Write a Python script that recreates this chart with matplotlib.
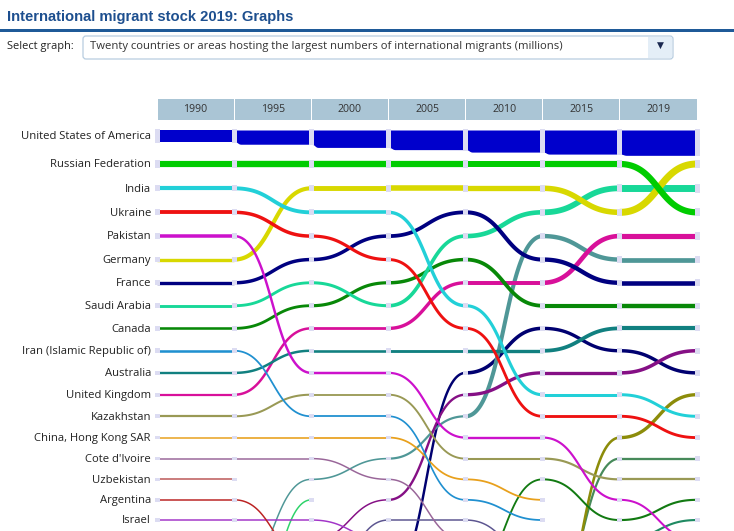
#importing dependencies
import numpy as np
import matplotlib.pyplot as plt
from matplotlib.patches import Rectangle, FancyBboxPatch

#Data : top countries per year, in rank order, with migrant stock (millions)
years = ["1990", "1995", "2000", "2005", "2010", "2015", "2019"]

rank_1990 = ["United States of America", "Russian Federation", "India", "Ukraine", "Pakistan",
             "Germany", "France", "Saudi Arabia", "Canada", "Iran (Islamic Republic of)",
             "Australia", "United Kingdom", "Kazakhstan", "China, Hong Kong SAR", "Cote d'Ivoire",
             "Uzbekistan", "Argentina", "Israel", "Italy", "Poland"]
mig_1990 = [23.25, 11.52, 7.49, 6.89, 6.21, 5.94, 5.90, 4.99, 4.33, 4.29,
            3.96, 3.65, 3.62, 2.22, 1.82, 1.65, 1.65, 1.63, 1.43, 1.13]

rank_1995 = ["United States of America", "Russian Federation", "Germany", "India", "Ukraine",
             "France", "Saudi Arabia", "Canada", "United Kingdom", "Australia",
             "Pakistan", "Kazakhstan", "Iran (Islamic Republic of)", "China, Hong Kong SAR", "Cote d'Ivoire",
             "United Arab Emirates", "Democratic Republic of the Congo", "Israel", "Italy", "Argentina"]
mig_1995 = [28.45, 11.93, 7.46, 6.95, 6.16, 6.09, 4.90, 4.87, 4.16, 4.16,
            4.08, 3.26, 2.75, 2.43, 2.03, 1.72, 1.70, 1.68, 1.60, 1.60]

rank_2000 = ["United States of America", "Russian Federation", "Germany", "India", "France",
             "Ukraine", "Canada", "Saudi Arabia", "United Kingdom", "Australia",
             "Pakistan", "Kazakhstan", "Iran (Islamic Republic of)", "China, Hong Kong SAR", "United Arab Emirates",
             "Cote d'Ivoire", "Italy", "Japan", "Israel"]
mig_2000 = [34.81, 11.90, 8.99, 6.41, 6.28, 5.53, 5.51, 5.26, 4.73, 4.39,
            4.18, 2.87, 2.80, 2.67, 2.45, 2.16, 2.12, 1.95, 1.85]

rank_2005 = ["United States of America", "Russian Federation", "Germany", "France", "Saudi Arabia",
             "Canada", "United Kingdom", "India", "Ukraine", "Australia",
             "Spain", "Italy", "United Arab Emirates", "Pakistan", "Kazakhstan",
             "China, Hong Kong SAR", "Iran (Islamic Republic of)", "Japan", "Cote d'Ivoire", "Israel"]
mig_2005 = [39.26, 11.67, 10.30, 6.74, 6.50, 6.08, 5.93, 5.92, 5.05, 4.88,
            4.11, 3.95, 3.60, 3.55, 3.01, 2.72, 2.57, 2.13, 2.05, 1.95]

rank_2010 = ["United States of America", "Russian Federation", "Germany", "Saudi Arabia", "United Arab Emirates",
             "France", "United Kingdom", "Canada", "Spain", "Australia",
             "Italy", "India", "Ukraine", "Pakistan", "Kazakhstan",
             "Jordan", "China, Hong Kong SAR", "Iran (Islamic Republic of)", "Israel", "Japan"]
mig_2010 = [44.18, 11.19, 9.81, 8.43, 7.32, 7.31, 7.12, 6.76, 6.28, 5.88,
            5.79, 5.44, 4.82, 3.94, 3.33, 2.90, 2.78, 2.76, 2.15, 2.13]

rank_2015 = ["United States of America", "Russian Federation", "Saudi Arabia", "Germany", "United Kingdom",
             "United Arab Emirates", "France", "Canada", "Australia", "Spain",
             "Italy", "India", "Ukraine", "Turkey", "Thailand",
             "Kazakhstan", "Pakistan", "Jordan", "Malaysia", "Kuwait"]
mig_2015 = [48.18, 11.64, 10.77, 10.22, 8.41, 8.00, 7.92, 7.43, 6.73, 5.89,
            5.81, 5.21, 4.92, 4.35, 3.60, 3.55, 3.50, 3.17, 3.10, 2.90]

rank_2019 = ["United States of America", "Germany", "Saudi Arabia", "Russian Federation", "United Kingdom",
             "United Arab Emirates", "France", "Canada", "Australia", "Italy",
             "Spain", "Turkey", "India", "Ukraine", "Thailand",
             "Kazakhstan", "Jordan", "Malaysia", "Pakistan", "Kuwait"]
mig_2019 = [50.66, 13.13, 13.12, 11.64, 9.55, 8.59, 8.33, 7.96, 7.55, 6.27,
            6.10, 5.88, 5.15, 4.96, 3.80, 3.71, 3.45, 3.43, 3.26, 3.11]

#rank held the year before a country first enters the top twenty
outside_rank = {"United Arab Emirates": 21, "Democratic Republic of the Congo": 26, "Japan": 22,
                "Spain": 21, "Jordan": 21, "Thailand": 23, "Turkey": 24}

colors = {"United States of America": "#0000cc", "Russian Federation": "#00cc00", "India": "#22d0d8",
          "Ukraine": "#ee1111", "Pakistan": "#cc11cc", "Germany": "#d8d800", "France": "#000080",
          "Saudi Arabia": "#18d898", "Canada": "#088808", "Iran (Islamic Republic of)": "#2090d0",
          "Australia": "#118080", "United Kingdom": "#d8109a", "Kazakhstan": "#999955",
          "China, Hong Kong SAR": "#e8a01c", "Cote d'Ivoire": "#996699", "Uzbekistan": "#bb5555",
          "Argentina": "#bb2222", "Israel": "#a235c8", "Italy": "#851085", "Poland": "#888888",
          "United Arab Emirates": "#4f9797", "Democratic Republic of the Congo": "#2ed36a",
          "Japan": "#5c5590", "Spain": "#000070", "Jordan": "#127a12", "Thailand": "#478a5a",
          "Turkey": "#8c8c0a", "Malaysia": "#1f8a62", "Kuwait": "#aa7744"}

ranks = [rank_1990, rank_1995, rank_2000, rank_2005, rank_2010, rank_2015, rank_2019]
migs = [mig_1990, mig_1995, mig_2000, mig_2005, mig_2010, mig_2015, mig_2019]

#Layout (pixels)
W, H = 734, 531
edges = np.linspace(157, 697, len(years) + 1)
US_TOP = 130


def row_y(r):
    if r == 1:
        return 136
    k = r - 2
    return 164 + 24.3 * k - 0.273 * k * (k - 1) / 2


def width_px(v, us=False):
    if us:
        return 0.5 * v
    return max(1.5, 0.5 * v + 0.4)


def center_y(r, v):
    if r == 1:
        return US_TOP + width_px(v, True) / 2
    return row_y(r)


def sigmoid(x0, x1, y0, y1, n=80):
    t = np.linspace(0, 1, n)
    xm = (x0 + x1) / 2
    x = (1 - t) ** 3 * x0 + 3 * (1 - t) ** 2 * t * xm + 3 * (1 - t) * t ** 2 * xm + t ** 3 * x1
    y = (1 - t) ** 3 * y0 + 3 * (1 - t) ** 2 * t * y0 + 3 * (1 - t) * t ** 2 * y1 + t ** 3 * y1
    return x, y


#Collect rank/value per country
countries = []
for lst in ranks:
    for c in lst:
        if c not in countries:
            countries.append(c)
pos = {c: [None] * len(years) for c in countries}
val = {c: [None] * len(years) for c in countries}
for k in range(len(years)):
    for i, c in enumerate(ranks[k]):
        pos[c][k] = i + 1
        val[c][k] = migs[k][i]

fig = plt.figure(figsize=(W / 100, H / 100), dpi=100)
ax = fig.add_axes([0, 0, 1, 1])
ax.set_xlim(0, W)
ax.set_ylim(H, 0)
ax.axis('off')

PT = 72 / 100  # points per pixel

#Header
ax.text(7, 17, "International migrant stock 2019: Graphs", fontsize=10.6, fontweight='bold',
        color='#1d4f8f', va='center', ha='left', family='Liberation Sans')
ax.add_patch(Rectangle((0, 28.5), W, 3, color='#1f5a98', lw=0))
ax.text(7, 47, "Select graph:", fontsize=7.9, color='#222222', va='center', ha='left', family='Open Sans')
ax.add_patch(FancyBboxPatch((83, 36), 590, 23, boxstyle="round,pad=0,rounding_size=3",
                            facecolor='white', edgecolor='#b8cde0', lw=0.9))
ax.add_patch(Rectangle((648, 36.6), 24.4, 21.8, facecolor='#e4eef7', edgecolor='none'))
ax.text(660, 45, "\u25bc", fontsize=6.5, color='#1a2850', ha='center', va='center', family='DejaVu Sans')
ax.text(90, 47, "Twenty countries or areas hosting the largest numbers of international migrants (millions)",
        fontsize=8.1, color='#333333', va='center', ha='left', family='Open Sans')

#Year header cells
for k, yr in enumerate(years):
    ax.add_patch(Rectangle((edges[k] + 0.5, 99), edges[k + 1] - edges[k] - 1, 21,
                           facecolor='#aac5d5', edgecolor='none'))
    ax.text((edges[k] + edges[k + 1]) / 2, 109.5, yr, fontsize=7.6, color='#333333',
            ha='center', va='center', family='Open Sans')

#Country labels (1990 order), only rows that fall inside the picture
for i, c in enumerate(rank_1990):
    if row_y(i + 1) + 8 < H:
        ax.text(151, row_y(i + 1) + 0.8, c, fontsize=8.15, color='#222222', ha='right', va='center',
                family='Open Sans')

#Lines
nodes = []
for c in reversed(countries):
    p, v = pos[c], val[c]
    col = colors[c]
    if c == "United States of America":
        # thick top-aligned band, bottom steps to the new width just after each node
        for k in range(len(years)):
            wa = width_px(v[max(k - 1, 0)], True)
            wb = width_px(v[k], True)
            x, yb = sigmoid(edges[k], edges[k] + 7, US_TOP + wa, US_TOP + wb)
            x = np.append(x, edges[k + 1])
            yb = np.append(yb, US_TOP + wb)
            ax.fill_between(x, US_TOP, yb, color=col, lw=0)
            nodes.append((edges[k + 1], 1, v[k]))
        nodes.append((edges[0], 1, v[0]))
        continue
    if p[0] is not None:
        y0 = center_y(p[0], v[0])
        ax.plot([edges[0], edges[1]], [y0, y0], color=col, lw=width_px(v[0]) * PT,
                solid_capstyle='butt')
        nodes.append((edges[0], p[0], v[0]))
        nodes.append((edges[1], p[0], v[0]))
    for k in range(1, len(years)):
        if p[k] is None:
            continue
        if p[k - 1] is not None:
            ya = center_y(p[k - 1], v[k - 1])
        elif c in outside_rank:
            ya = row_y(outside_rank[c])
        else:
            continue
        yb = center_y(p[k], v[k])
        x, y = sigmoid(edges[k], edges[k + 1], ya, yb)
        ax.plot(x, y, color=col, lw=width_px(v[k]) * PT, solid_capstyle='butt')
        nodes.append((edges[k + 1], p[k], v[k]))

#Node markers
for x, r, v in nodes:
    w = width_px(v, r == 1)
    yc = center_y(r, v)
    ax.add_patch(Rectangle((x - 2.5, yc - w / 2 - 1), 5, w + 2, facecolor='#dcdcf2',
                           edgecolor='none', zorder=3))

fig.savefig("out.png", dpi=100)
